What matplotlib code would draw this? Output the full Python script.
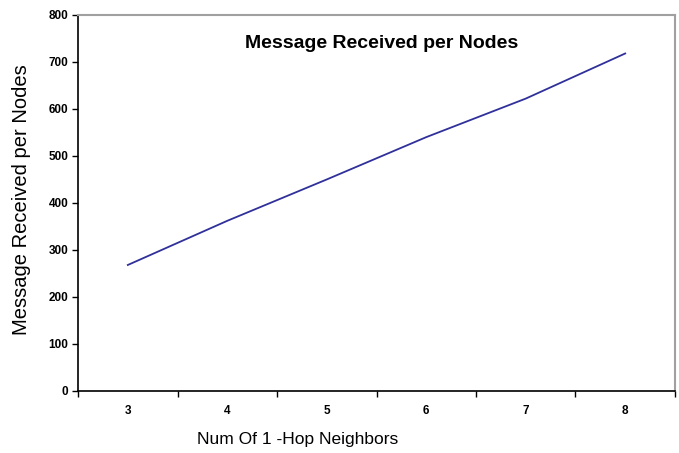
import matplotlib
matplotlib.use("Agg")
import matplotlib.pyplot as plt
import numpy as np

neighbors = [3, 4, 5, 6, 7, 8]
messages = [268, 362, 450, 540, 622, 718]
y_ticks = [0, 100, 200, 300, 400, 500, 600, 700, 800]

plt.rcParams['font.family'] = ['Liberation Sans', 'DejaVu Sans']

fig = plt.figure(figsize=(6.79, 4.53), dpi=100)
ax = fig.add_axes([0.115, 0.137, 0.879, 0.830])

x = np.arange(len(neighbors))
ax.plot(x, messages, color='#30309a', linewidth=1.3)

ax.set_xlim(-0.5, len(neighbors) - 0.5)
ax.set_ylim(0, 800)
ax.set_yticks(y_ticks)
ax.set_yticklabels([str(v) for v in y_ticks], fontsize=8.5, fontweight='bold')

# category axis: ticks on boundaries, labels at centres
ax.set_xticks(np.arange(-0.5, len(neighbors)), minor=False)
ax.set_xticklabels([])
ax.set_xticks(x, minor=True)
ax.set_xticklabels([str(n) for n in neighbors], minor=True, fontsize=8.5, fontweight='bold')
ax.tick_params(axis='x', which='minor', length=0, pad=10)
ax.tick_params(axis='y', which='major', pad=3)
ax.tick_params(axis='both', which='major', direction='out', length=4, width=1, color='black')

ax.spines['left'].set_color('black')
ax.spines['bottom'].set_color('black')
ax.spines['left'].set_linewidth(1.2)
ax.spines['bottom'].set_linewidth(1.2)
ax.spines['top'].set_color('#a0a0a0')
ax.spines['right'].set_color('#a0a0a0')
ax.spines['top'].set_linewidth(1.5)
ax.spines['right'].set_linewidth(1.5)

ax.text(0.508, 0.925, 'Message Received per Nodes', transform=ax.transAxes,
        ha='center', va='center', fontsize=14, fontweight='bold')

ax.text(-0.094, 0.508, 'Message Received per Nodes', transform=ax.transAxes,
        ha='center', va='center', rotation=90, fontsize=14.5)
ax.text(0.367, -0.130, 'Num Of 1 -Hop Neighbors', transform=ax.transAxes,
        ha='center', va='center', fontsize=12.5)

fig.savefig('out.png', dpi=100)
